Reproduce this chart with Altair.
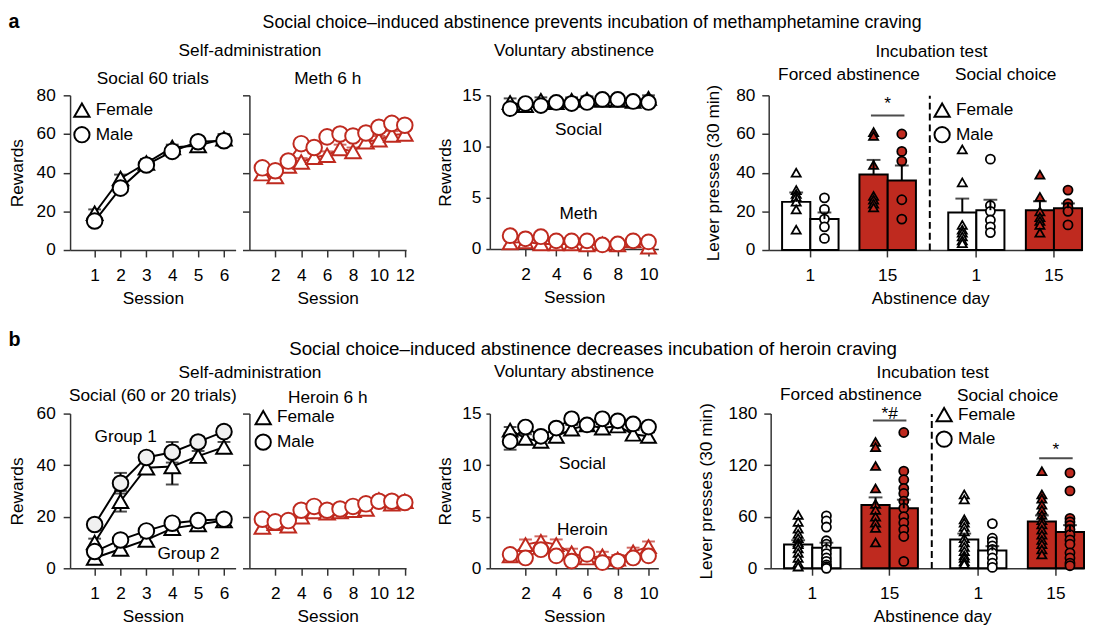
import altair as alt
import pandas as pd

FONT = "Liberation Sans"
RED = "#bf2a1f"
FS = 17.5

# ---------------- Row a data ----------------
a_title = "Social choice\u2013induced abstinence prevents incubation of methamphetamine craving"

a_social_sessions = [1, 2, 3, 4, 5, 6]
a_social_female = [19, 37, 45, 53, 54, 57.5]
a_social_female_sem = [2, 2, 2, 1.5, 2, 2.5]
a_social_male = [15, 32, 44, 51, 56, 56.5]
a_social_male_sem = [1.5, 2, 2, 1.5, 1.5, 2]

a_meth_sessions = [1, 2, 3, 4, 5, 6, 7, 8, 9, 10, 11, 12]
a_meth_female = [39.5, 38, 43.5, 45.5, 48, 49, 52.5, 51, 56, 57, 59.5, 60]
a_meth_female_sem = [2, 2, 2, 2, 2, 2, 2, 2, 2, 2, 2, 2]
a_meth_male = [42.5, 41, 46, 55, 53, 58.5, 60, 59, 60.5, 63.5, 65.5, 64.5]
a_meth_male_sem = [2, 2, 2, 2, 2, 2, 2, 2, 2, 2, 2, 2]

a_va_sessions = [1, 2, 3, 4, 5, 6, 7, 8, 9, 10]
a_va_social_female = [14.3, 14.0, 14.5, 14.3, 14.5, 14.6, 14.5, 14.5, 14.4, 14.7]
a_va_social_female_sem = [0.4, 0.3, 0.3, 0.3, 0.3, 0.3, 0.3, 0.3, 0.3, 0.3]
a_va_social_male = [13.7, 14.2, 14.0, 14.3, 14.2, 14.3, 14.6, 14.6, 14.4, 14.3]
a_va_social_male_sem = [0.4, 0.3, 0.3, 0.3, 0.3, 0.3, 0.3, 0.3, 0.3, 0.3]
a_va_drug_female = [0.6, 0.7, 0.5, 0.5, 0.5, 0.4, 0.5, 0.4, 0.8, 0.2]
a_va_drug_female_sem = [0.3, 0.3, 0.3, 0.3, 0.3, 0.3, 0.3, 0.3, 0.3, 0.2]
a_va_drug_male = [1.3, 1.0, 1.2, 0.8, 0.8, 0.8, 0.4, 0.5, 0.8, 0.7]
a_va_drug_male_sem = [0.3, 0.3, 0.3, 0.3, 0.3, 0.3, 0.3, 0.3, 0.3, 0.3]
a_va_label_text = ["Social", "Meth"]
a_va_label_x = [5.45, 5.45]
a_va_label_y = [11.6, 3.4]

a_forced_d1_female = [40, 31, 29, 27.5, 25, 21, 10.5]
a_forced_d1_male = [27, 21, 16, 12, 6]
a_forced_d15_female = [61, 59, 44, 28, 26, 24, 22]
a_forced_d15_male = [60, 51, 46, 26, 16]
a_forced_means = [24.9, 16.0, 39.0, 36.0]
a_forced_sems = [4.8, 3.4, 7.6, 7.7]
a_choice_d1_female = [52, 35, 13, 10.5, 9, 7, 5, 3.5]
a_choice_d1_male = [47, 23, 20, 15.5, 12, 9]
a_choice_d15_female = [39, 27.5, 20, 17, 15, 13, 9]
a_choice_d15_male = [31, 24, 22, 20, 13]
a_choice_means = [19.4, 20.6, 20.6, 21.6]
a_choice_sems = [7.2, 5.4, 4.6, 2.5]
a_forced_sig = {"day": ["15"], "line": [69.6], "star": [75.5], "text": ["*"]}

# ---------------- Row b data ----------------
b_title = "Social choice\u2013induced abstinence decreases incubation of heroin craving"

b_social_sessions = [1, 2, 3, 4, 5, 6]
b_g1_female = [10, 26, 39, 39.5, 43.5, 47]
b_g1_female_sem = [1.5, 4, 2, 7, 2, 2]
b_g1_male = [17, 33, 43, 45, 49, 53]
b_g1_male_sem = [1.5, 4, 2, 4, 2, 2]
b_g2_female = [4, 7.5, 11, 15.5, 17, 18.5]
b_g2_female_sem = [1, 1, 1, 1, 1, 1]
b_g2_male = [6.5, 11, 14.5, 17.5, 18.5, 19]
b_g2_male_sem = [1, 1, 1, 1, 1, 1]
b_group_text = ["Group 1", "Group 2"]
b_group_x = [2.2, 4.63]
b_group_y = [50.8, 5.4]

b_her_sessions = [1, 2, 3, 4, 5, 6, 7, 8, 9, 10, 11, 12]
b_her_female = [16, 17.5, 16.5, 20, 22, 21.5, 22, 22.5, 23, 26.5, 25, 26]
b_her_female_sem = [1.5, 1.5, 1.5, 1.5, 1.5, 1.5, 1.5, 1.5, 1.5, 1.5, 1.5, 1.5]
b_her_male = [19, 18, 18.5, 22.5, 24, 22.5, 23, 24, 25, 26, 26, 25.5]
b_her_male_sem = [1.5, 1.5, 1.5, 1.5, 1.5, 1.5, 1.5, 1.5, 1.5, 1.5, 1.5, 1.5]

b_va_sessions = [1, 2, 3, 4, 5, 6, 7, 8, 9, 10]
b_va_social_female = [13.4, 12.6, 12.3, 12.8, 13.5, 13.9, 13.6, 13.8, 13.0, 12.8]
b_va_social_female_sem = [0.3, 0.4, 0.4, 0.4, 0.4, 0.4, 0.4, 0.4, 0.4, 0.4]
b_va_social_male = [12.3, 13.7, 12.8, 13.6, 14.5, 13.9, 14.5, 14.3, 14.0, 13.7]
b_va_social_male_sem = [0.8, 0.4, 0.4, 0.4, 0.4, 0.4, 0.4, 0.4, 0.4, 0.4]
b_va_drug_female = [1.2, 2.3, 2.6, 2.3, 1.5, 1.0, 1.2, 0.9, 1.6, 2.1]
b_va_drug_female_sem = [0.4, 0.5, 0.5, 0.5, 0.4, 0.4, 0.4, 0.4, 0.4, 0.5]
b_va_drug_male = [1.35, 1.0, 1.8, 1.2, 0.7, 1.35, 0.55, 0.7, 1.0, 1.2]
b_va_drug_male_sem = [0.4, 0.4, 0.4, 0.4, 0.4, 0.4, 0.4, 0.4, 0.4, 0.4]
b_va_label_text = ["Social", "Heroin"]
b_va_label_x = [5.7, 5.7]
b_va_label_y = [10.1, 3.75]

b_forced_d1_female = [62, 54, 46, 40, 35, 30, 28, 23, 18, 12, 6, 2]
b_forced_d1_male = [61, 55, 48, 32, 28, 22, 17, 12, 8, 4, 2, 0]
b_forced_d15_female = [147, 141, 119, 93, 75, 68, 60, 53, 47, 30]
b_forced_d15_male = [158, 113, 103, 93, 87, 78, 70, 60, 53, 45, 37, 8]
b_forced_means = [27.6, 23.8, 73.7, 69.8]
b_forced_sems = [5.0, 6.0, 8.8, 10.0]
b_choice_d1_female = [86, 80, 57, 53, 48, 43, 35, 30, 25, 20, 15, 12, 8, 5]
b_choice_d1_male = [52, 35, 31, 26, 22, 18, 12, 6, 1]
b_choice_d15_female = [113, 86, 81, 74, 68, 62, 56, 51, 45, 39, 33, 28, 22, 16]
b_choice_d15_male = [111, 90, 58, 54, 50, 45, 39, 33, 28, 18, 12, 6, 3]
b_choice_means = [33.4, 20.7, 54.5, 42.2]
b_choice_sems = [7.0, 5.0, 7.0, 8.0]
b_forced_sig = {"day": ["15"], "line": [172], "star": [180], "text": ["*#"]}
b_choice_sig = {"day": ["15"], "line": [128], "star": [137], "text": ["*"]}

bar_days = ["1", "1", "15", "15"]
bar_sexes = ["Female", "Male", "Female", "Male"]

SEXES = ["Female", "Male"]
SHAPES = ["triangle-up", "circle"]


# ---------------- helpers ----------------
def series(sessions, values, sems, sex, group, fill):
    return pd.DataFrame({"session": sessions, "value": values, "sem": sems,
                         "sex": sex, "series": group + sex, "fillc": fill})


def finish(frames):
    df = pd.concat(frames, ignore_index=True)
    df["lo"] = df["value"] - df["sem"]
    df["hi"] = df["value"] + df["sem"]
    df["ord"] = range(len(df))
    return df


def legend_spec(lx, ly):
    return alt.Legend(title=None, orient="none", legendX=lx, legendY=ly,
                      symbolSize=240, symbolStrokeWidth=2, symbolStrokeColor="black",
                      symbolFillColor="white", labelFontSize=FS, labelFont=FONT,
                      labelColor="black", rowPadding=2, labelOffset=5, padding=0)


def line_panel(df, color, xdom, xticks, ydom, yticks, width, height, title,
               title_offset, ylabels=True, ytitle="Rewards", legend=None,
               labels=None, msize=250, ytick=7, ylp=8, ytp=10):
    xs = alt.Scale(domain=xdom, nice=False, zero=False)
    ys = alt.Scale(domain=ydom, nice=False, zero=False)
    xax = alt.Axis(values=xticks, title="Session", labelAngle=0)
    if ylabels:
        yax = alt.Axis(values=yticks, title=ytitle, tickSize=ytick, labelPadding=ylp,
                       titlePadding=ytp)
    else:
        yax = alt.Axis(values=yticks, title=None, labels=False, tickSize=ytick)

    def X():
        return alt.X("session:Q", scale=xs, axis=xax)

    def Y(f):
        return alt.Y(f + ":Q", scale=ys, axis=yax)

    base = alt.Chart(df)
    err = base.mark_rule(color=color, strokeWidth=2).encode(
        x=X(), y=Y("lo"), y2="hi:Q")
    cap_lo = base.mark_tick(orient="horizontal", size=13, thickness=2, color=color).encode(
        x=X(), y=Y("lo"))
    cap_hi = base.mark_tick(orient="horizontal", size=13, thickness=2, color=color).encode(
        x=X(), y=Y("hi"))
    line = base.mark_line(color=color, strokeWidth=2).encode(
        x=X(), y=Y("value"), detail="series:N")
    pts = base.mark_point(filled=True, size=msize, stroke=color, strokeWidth=2,
                          opacity=1).encode(
        x=X(), y=Y("value"),
        shape=alt.Shape("sex:N", scale=alt.Scale(domain=SEXES, range=SHAPES),
                        legend=legend),
        fill=alt.Fill("fillc:N", scale=None),
        order=alt.Order("ord:Q"))
    layers = [err, cap_lo, cap_hi, line, pts]
    if labels is not None:
        ldf = pd.DataFrame(labels)
        layers.append(alt.Chart(ldf).mark_text(fontSize=FS, font=FONT, color="black").encode(
            x=alt.X("x:Q", scale=xs, axis=xax), y=alt.Y("y:Q", scale=ys, axis=yax),
            text="t:N"))
    return alt.layer(*layers).properties(
        width=width, height=height,
        title=alt.TitleParams(title, offset=title_offset))


def pts_df(d1f, d1m, d15f, d15m):
    rows = []
    for day, sex, vals in [("1", "Female", d1f), ("1", "Male", d1m),
                           ("15", "Female", d15f), ("15", "Male", d15m)]:
        for v in vals:
            rows.append({"day": day, "sex": sex, "value": v})
    return pd.DataFrame(rows)


def bar_panel(points, means, sems, ydom, yticks, width, height, title, title_offset,
              xscale, first=True, legend=None, sig=None, xtitle_x=None):
    bdf = pd.DataFrame({"day": bar_days, "sex": bar_sexes, "mean": means, "sem": sems})
    bdf["hi"] = bdf["mean"] + bdf["sem"]
    ys = alt.Scale(domain=ydom, nice=False, zero=False)
    if first:
        yax = alt.Axis(values=yticks, title="Lever presses (30 min)", labelPadding=7,
                       titlePadding=13)
        xax = alt.Axis(labelAngle=0, title="Abstinence day", titleX=xtitle_x,
                       titleAlign="center", titleAnchor="start")
    else:
        yax = alt.Axis(values=yticks, title=None, labels=False, ticks=False,
                       domainDash=[7, 4], domainWidth=2, domainColor="black")
        xax = alt.Axis(labelAngle=0, title=None)

    def X():
        return alt.X("day:N", scale=xscale, axis=xax, sort=["1", "15"])

    def XO():
        return alt.XOffset("sex:N", scale=alt.Scale(domain=SEXES, paddingInner=0, paddingOuter=0))

    def Y(f):
        return alt.Y(f + ":Q", scale=ys, axis=yax)

    dayfill = alt.Fill("day:N", scale=alt.Scale(domain=["1", "15"], range=["white", RED]),
                       legend=None)
    bars = alt.Chart(bdf).mark_bar(stroke="black", strokeWidth=2).encode(
        x=X(), xOffset=XO(), y=Y("mean"), fill=dayfill)
    pts = alt.Chart(points).mark_point(filled=True, size=85, stroke="black",
                                       strokeWidth=1.8, opacity=1).encode(
        x=X(), xOffset=XO(), y=Y("value"),
        shape=alt.Shape("sex:N", scale=alt.Scale(domain=SEXES, range=SHAPES), legend=legend),
        fill=dayfill)
    err = alt.Chart(bdf).mark_rule(color="black", strokeWidth=2).encode(
        x=X(), xOffset=XO(), y=Y("mean"), y2="hi:Q")
    cap = alt.Chart(bdf).mark_tick(orient="horizontal", size=14, thickness=2,
                                   color="black").encode(
        x=X(), xOffset=XO(), y=Y("hi"))
    layers = [bars, pts, err, cap]
    if sig is not None:
        sdf = pd.DataFrame(sig)
        layers.append(alt.Chart(sdf).mark_tick(orient="horizontal", size=34, thickness=2,
                                               color="black").encode(x=X(), y=Y("line")))
        layers.append(alt.Chart(sdf).mark_text(fontSize=FS, font=FONT, color="black").encode(
            x=X(), y=Y("star"), text="text:N"))
    return alt.layer(*layers).properties(
        width=width, height=height,
        title=alt.TitleParams(title, offset=title_offset))


def indep(c):
    return c.resolve_scale(shape="independent", fill="independent", x="independent",
                           y="independent", xOffset="independent").resolve_legend(
        shape="independent", fill="independent")


def T(text, **kw):
    return alt.TitleParams(text, **kw)


band_forced = alt.Scale(domain=["1", "15"], paddingInner=0.27, paddingOuter=0.173)
band_choice = alt.Scale(domain=["1", "15"], paddingInner=0.276, paddingOuter=0.122, align=1)

# ---------------- Row a ----------------
a_p1_df = finish([
    series(a_social_sessions, a_social_female, a_social_female_sem, "Female", "", "white"),
    series(a_social_sessions, a_social_male, a_social_male_sem, "Male", "", "white")])
a_p1 = line_panel(a_p1_df, "black", [0.05, 6.45], [1, 2, 3, 4, 5, 6], [0, 80],
                  [0, 20, 40, 60, 80], 168, 157, "Social 60 trials", -1,
                  legend=legend_spec(3, 6))

a_p2_df = finish([
    series(a_meth_sessions, a_meth_female, a_meth_female_sem, "Female", "", "white"),
    series(a_meth_sessions, a_meth_male, a_meth_male_sem, "Male", "", "white")])
a_p2 = line_panel(a_p2_df, RED, [0, 12.1], [2, 4, 6, 8, 10, 12], [0, 80],
                  [0, 20, 40, 60, 80], 159, 157, "Meth 6 h", 7, ylabels=False)

a_p3_df = finish([
    series(a_va_sessions, a_va_social_female, a_va_social_female_sem, "Female", "s", "white"),
    series(a_va_sessions, a_va_social_male, a_va_social_male_sem, "Male", "s", "white")])
a_p3d_df = finish([
    series(a_va_sessions, a_va_drug_female, a_va_drug_female_sem, "Female", "d", "white"),
    series(a_va_sessions, a_va_drug_male, a_va_drug_male_sem, "Male", "d", "white")])
a_p3_social = line_panel(a_p3_df, "black", [-0.32, 10.64], [2, 4, 6, 8, 10], [0, 15],
                         [0, 5, 10, 15], 171, 156, "Voluntary abstinence", 27,
                         labels={"t": a_va_label_text, "x": a_va_label_x, "y": a_va_label_y},
                         msize=225, ytick=4, ylp=5, ytp=7)
a_p3_drug = line_panel(a_p3d_df, RED, [-0.32, 10.64], [2, 4, 6, 8, 10], [0, 15],
                       [0, 5, 10, 15], 171, 156, "Voluntary abstinence", 27, msize=225,
                       ytick=4, ylp=5, ytp=7)
a_p3 = alt.layer(a_p3_social, a_p3_drug).properties(
    width=171, height=156, title=T("Voluntary abstinence", offset=27))

a_p4a = bar_panel(pts_df(a_forced_d1_female, a_forced_d1_male, a_forced_d15_female,
                         a_forced_d15_male), a_forced_means, a_forced_sems, [0, 80],
                  [0, 20, 40, 60, 80], 163, 157, "Forced abstinence", 1, band_forced,
                  first=True, sig=a_forced_sig, xtitle_x=164)
a_p4b = bar_panel(pts_df(a_choice_d1_female, a_choice_d1_male, a_choice_d15_female,
                         a_choice_d15_male), a_choice_means, a_choice_sems, [0, 80],
                  [0, 20, 40, 60, 80], 155, 157, "Social choice", 12, band_choice,
                  first=False, legend=legend_spec(4, 6))

a_sa = indep(alt.hconcat(a_p1, a_p2, spacing=14, bounds="flush",
                         title=T("Self-administration", offset=11, anchor="middle", dx=38)))
a_inc = indep(alt.hconcat(a_p4a, a_p4b, spacing=0, bounds="flush",
                          title=T("Incubation test", offset=6, anchor="middle", dx=38)))
a_left = indep(alt.hconcat(a_sa, a_p3, spacing=20))
a_row = indep(alt.hconcat(a_left, a_inc, spacing=45,
                          title=T(a_title, offset=10, anchor="middle", dx=47, fontSize=18)))
a_wrap = indep(alt.vconcat(a_row, title=T("a", anchor="start", fontWeight="bold",
                                            fontSize=20, offset=-18)))

# ---------------- Row b ----------------
b_p1_df = finish([
    series(b_social_sessions, b_g1_female, b_g1_female_sem, "Female", "g1", "white"),
    series(b_social_sessions, b_g2_female, b_g2_female_sem, "Female", "g2", "white"),
    series(b_social_sessions, b_g1_male, b_g1_male_sem, "Male", "g1", "#f0f0f0"),
    series(b_social_sessions, b_g2_male, b_g2_male_sem, "Male", "g2", "white")])
b_p1 = line_panel(b_p1_df, "black", [0.05, 6.45], [1, 2, 3, 4, 5, 6], [0, 60],
                  [0, 20, 40, 60], 168, 157, "Social (60 or 20 trials)", 0,
                  labels={"t": b_group_text, "x": b_group_x, "y": b_group_y})

b_p2_df = finish([
    series(b_her_sessions, b_her_female, b_her_female_sem, "Female", "", "white"),
    series(b_her_sessions, b_her_male, b_her_male_sem, "Male", "", "white")])
b_p2 = line_panel(b_p2_df, RED, [0, 12.1], [2, 4, 6, 8, 10, 12], [0, 60],
                  [0, 20, 40, 60], 159, 157, "Heroin 6 h", 2, ylabels=False,
                  legend=legend_spec(5, -5))

b_p3_df = finish([
    series(b_va_sessions, b_va_social_female, b_va_social_female_sem, "Female", "s", "white"),
    series(b_va_sessions, b_va_social_male, b_va_social_male_sem, "Male", "s", "white")])
b_p3d_df = finish([
    series(b_va_sessions, b_va_drug_female, b_va_drug_female_sem, "Female", "d", "white"),
    series(b_va_sessions, b_va_drug_male, b_va_drug_male_sem, "Male", "d", "white")])
b_p3_social = line_panel(b_p3_df, "black", [-0.32, 10.64], [2, 4, 6, 8, 10], [0, 15],
                         [0, 5, 10, 15], 171, 157, "Voluntary abstinence", 25,
                         labels={"t": b_va_label_text, "x": b_va_label_x, "y": b_va_label_y},
                         msize=225, ytick=4, ylp=5, ytp=7)
b_p3_drug = line_panel(b_p3d_df, RED, [-0.32, 10.64], [2, 4, 6, 8, 10], [0, 15],
                       [0, 5, 10, 15], 171, 157, "Voluntary abstinence", 25, msize=225,
                       ytick=4, ylp=5, ytp=7)
b_p3 = alt.layer(b_p3_social, b_p3_drug).properties(
    width=171, height=157, title=T("Voluntary abstinence", offset=25))

b_p4a = bar_panel(pts_df(b_forced_d1_female, b_forced_d1_male, b_forced_d15_female,
                         b_forced_d15_male), b_forced_means, b_forced_sems, [0, 180],
                  [0, 60, 120, 180], 163, 157, "Forced abstinence", -1, band_forced,
                  first=True, sig=b_forced_sig, xtitle_x=164)
b_p4b = bar_panel(pts_df(b_choice_d1_female, b_choice_d1_male, b_choice_d15_female,
                         b_choice_d15_male), b_choice_means, b_choice_sems, [0, 180],
                  [0, 60, 120, 180], 155, 157, "Social choice", 1, band_choice,
                  first=False, legend=legend_spec(4, -8), sig=b_choice_sig)

b_sa = indep(alt.hconcat(b_p1, b_p2, spacing=14, bounds="flush",
                         title=T("Self-administration", offset=6, anchor="middle", dx=38)))
b_inc = indep(alt.hconcat(b_p4a, b_p4b, spacing=0, bounds="flush",
                          title=T("Incubation test", offset=5, anchor="middle", dx=42)))
b_left = indep(alt.hconcat(b_sa, b_p3, spacing=20))
b_row = indep(alt.hconcat(b_left, b_inc, spacing=37,
                          title=T(b_title, offset=4, anchor="middle", dx=47, fontSize=19)))
b_wrap = indep(alt.vconcat(b_row, title=T("b", anchor="start", fontWeight="bold",
                                            fontSize=20, offset=-10)))

chart = indep(alt.vconcat(a_wrap, b_wrap, spacing=23, padding=0)).configure(
    font=FONT
).configure_view(stroke=None).configure_axis(
    labelFontSize=FS, titleFontSize=FS, labelColor="black", titleColor="black",
    titleFontWeight="normal", labelFont=FONT, titleFont=FONT, domainColor="#333333",
    tickColor="#333333", domainWidth=1.5, tickWidth=1.5, tickSize=7, grid=False
).configure_axisX(
    labelPadding=9.5, titlePadding=6.5
).configure_axisY(
    labelPadding=8, titlePadding=10
).configure_title(
    fontSize=FS, fontWeight="normal", color="black", font=FONT
)

chart.save("out.html", embed_options={"renderer": "svg", "actions": False})
